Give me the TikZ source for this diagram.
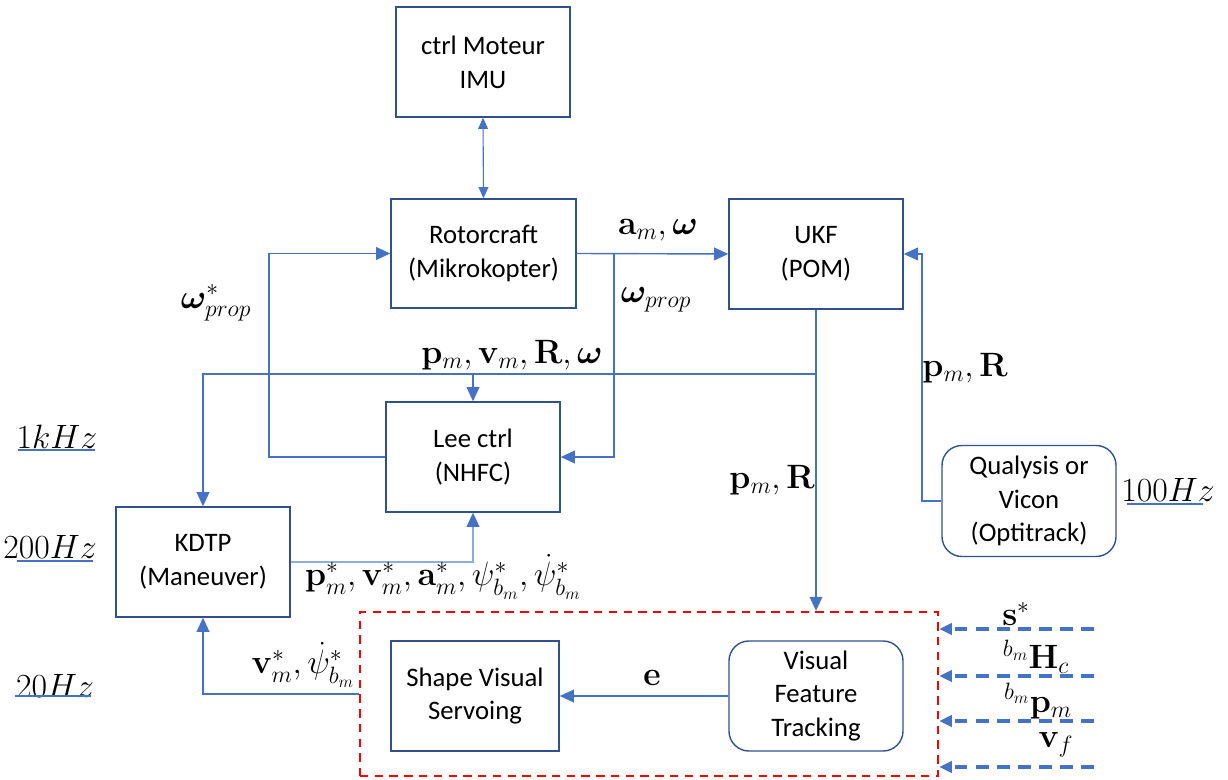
\RequirePackage{fix-cm}
\documentclass[tikz,border=0pt]{standalone}
\usepackage{amsmath,bm}
\usepackage[no-math]{fontspec}
\setmainfont{Carlito}
\usetikzlibrary{arrows.meta}
\definecolor{lblue}{HTML}{4472C4}
\definecolor{bblue}{HTML}{2F528F}
\definecolor{pblue}{HTML}{8FAADC}
\begin{document}
\begin{tikzpicture}[x=0.025cm,y=-0.025cm,
  box/.style={draw=bblue, line width=1pt, align=center, inner sep=0pt,
    font=\fontsize{19}{24}\selectfont, minimum width=4.35cm, minimum height=2.75cm},
  rbox/.style={box, rounded corners=0.5cm},
  conn/.style={draw=lblue, line width=1pt},
  arr/.style={conn, -{Triangle[length=10pt,width=9pt]}},
  parr/.style={draw=pblue, line width=1pt, -{Triangle[length=10pt,width=9pt,color=lblue,fill=lblue]}},
  dbl/.style={draw=lblue, line width=0.8pt, {Triangle[length=8pt,width=7pt]}-{Triangle[length=8pt,width=7pt]}},
  inarr/.style={draw=lblue, line width=2.2pt, dash pattern=on 9pt off 6pt, -{Triangle[length=9pt,width=8pt]}},
  redbox/.style={draw=red, line width=1.6pt, dash pattern=on 6pt off 4.5pt, minimum width=14.45cm, minimum height=4.1cm, inner sep=0pt},
  lab/.style={font=\fontsize{24}{27}\selectfont, inner sep=0pt},
  uline/.style={draw=lblue, line width=0.8pt}
]
\useasboundingbox (0,0) rectangle (1228,780);

% boxes
\node[box] (mot) at (483,62) {ctrl Moteur\\IMU};
\node[box, minimum width=4.625cm, minimum height=2.725cm] (rot) at (483.5,253.5) {Rotorcraft\\(Mikrokopter)};
\node[box] (ukf) at (816,254) {UKF\\(POM)};
\node[box] (lee) at (473,457) {Lee ctrl\\(NHFC)};
\node[box] (kdtp) at (203,562) {KDTP\\(Maneuver)};
\node[rbox, minimum height=2.775cm] (qual) at (1029,501) {Qualysis or\\Vicon\\(Optitrack)};
\node[redbox] (red) at (649,694) {};
\node[box, minimum width=4.2cm] (svs) at (475,696) {Shape Visual\\Servoing};
\node[rbox] (vft) at (816,696) {Visual\\Feature\\Tracking};

% coordinates
\coordinate (b1) at (614,254);
\coordinate (lw) at (269,457);
\coordinate (j1) at (816,374);
\coordinate (qx) at (922,501);
\coordinate (i1) at (1094,629);
\coordinate (i2) at (1094,676);
\coordinate (i3) at (1094,721);
\coordinate (i4) at (1094,767);

% connectors
\draw[dbl] (mot.south) -- (rot.north);
\draw[arr] (rot.east) -- (ukf.west);
\draw[arr] (b1) |- (lee.east);
\draw[arr] (lee.west) -- (lw) |- (rot.west);
\draw[arr] (ukf.south) -- (ukf.south |- red.north);
\draw[arr] (j1) -| (kdtp.north);
\draw[arr] (lee.north |- j1) -- (lee.north);
\draw[parr] (kdtp.east) -| (lee.south);
\draw[arr] (red.west) -| (kdtp.south);
\draw[arr] (vft.west) -- (svs.east);
\draw[arr] (qual.west) -- (qx) |- (ukf.east);
\draw[inarr] (i1) -- (i1 -| red.east);
\draw[inarr] (i2) -- (i2 -| red.east);
\draw[inarr] (i3) -- (i3 -| red.east);
\draw[inarr] (i4) -- (i4 -| red.east);

% labels
\node[lab] (l1) at (658,230) {$\mathbf{a}_m,\boldsymbol{\omega}$};
\node[lab] (l2) at (656,300) {$\boldsymbol{\omega}_{prop}$};
\node[lab] (l3) at (216,303) {$\boldsymbol{\omega}^*_{prop}$};
\node[lab] (l4) at (512,355) {$\mathbf{p}_m,\mathbf{v}_m,\mathbf{R},\boldsymbol{\omega}$};
\node[lab] (l5) at (965,368) {$\mathbf{p}_m,\mathbf{R}$};
\node[lab] (l6) at (772,480) {$\mathbf{p}_m,\mathbf{R}$};
\node[lab] (l7) at (443,577) {$\mathbf{p}^*_m,\mathbf{v}^*_m,\mathbf{a}^*_m,\psi^*_{b_m},\dot{\psi}^*_{b_m}$};
\node[lab] (l8) at (303,665) {$\mathbf{v}^*_m,\dot{\psi}^*_{b_m}$};
\node[lab] (l9) at (652,678) {$\mathbf{e}$};
\node[lab] (l10) at (1016,614) {$\mathbf{s}^*$};
\node[lab] (l11) at (1036,657) {${}^{b_m}\mathbf{H}_c$};
\node[lab] (l12) at (1038,701) {${}^{b_m}\mathbf{p}_m$};
\node[lab] (l13) at (1056,745) {$\mathbf{v}_f$};

% frequencies
\node[lab] (f1) at (57,437) {$1kHz$};
\node[lab] (f2) at (50,547) {$200Hz$};
\node[lab] (f3) at (55,686) {$20Hz$};
\node[lab] (f4) at (1168,490) {$100Hz$};
\draw[uline] (18,450) -- (95,450);
\draw[uline] (17,561) -- (93,561);
\draw[uline] (15,696) -- (91,696);
\draw[uline] (1127,504) -- (1203,504);
\end{tikzpicture}
\end{document}
